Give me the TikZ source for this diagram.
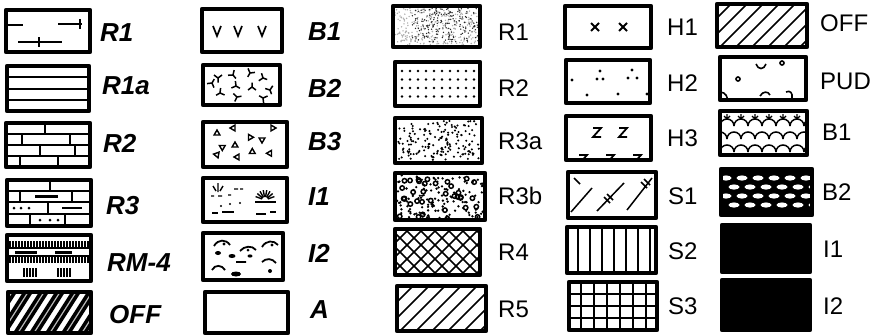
\documentclass[tikz,border=0pt]{standalone}
\usepackage{fontspec}
\setmainfont{Liberation Sans}
\newcommand\bx[5]{\begin{scope}\clip (#1,#2) rectangle (#3,#4); #5 \end{scope}\draw[frame] (#1,#2) rectangle (#3,#4);}
\newcommand\rdots[7]{\foreach \i in {1,...,#5}{\pgfmathsetmacro\px{#1+rnd*(#3-#1)}\pgfmathsetmacro\py{#2+rnd*(#4-#2)}\fill[#7] (\px,\py) circle (#6);}}
\begin{document}
\begin{tikzpicture}[x=1pt,y=-1pt,
  frame/.style={line width=4.3pt, line join=round},
  pat/.style={line width=1.4pt},
  lbi/.style={anchor=west, inner sep=0pt, font=\fontsize{26}{26}\selectfont\bfseries\itshape, text height=18.6pt, text depth=0pt},
  lbr/.style={anchor=west, inner sep=0pt, font=\fontsize{24}{24}\selectfont, text height=17.2pt, text depth=0pt},
  tri/.style={line width=1.4pt},
  tripod/.pic={\draw[line width=1.5pt] (0,0)--(0,-4.5pt) (0,0)--(-4pt,3pt) (0,0)--(4pt,3pt);}]
\useasboundingbox (0,0) rectangle (881,335);
\pgfmathsetseed{7}
% ---------- column 1 ----------
\bx{6}{10}{90}{52}{\draw[pat] (6,25)--(23,25) (58,24)--(82,24) (80,19)--(80,29) (18,42)--(62,42) (39,37)--(39,47);}
\bx{7}{66}{89}{111}{\draw[pat] (7,77)--(89,77) (7,89)--(89,89) (7,100)--(89,100);}
\bx{6}{123}{90}{167}{\draw[line width=1.8pt] (6,134)--(90,134) (6,145)--(90,145) (6,156)--(90,156)
  (45,123)--(45,134) (22,134)--(22,145) (70,134)--(70,145) (40,145)--(40,156) (75,145)--(75,156) (20,156)--(20,167) (58,156)--(58,167);}
\bx{7}{180}{91}{226}{\draw[line width=1.8pt] (7,191)--(91,191) (7,202)--(91,202) (7,214)--(91,214)
  (50,180)--(50,191) (20,191)--(20,202) (72,191)--(72,202) (48,202)--(48,214) (30,214)--(30,226) (65,214)--(65,226);
  \draw[line width=2.6pt] (35,196.5)--(58,196.5) (62,208)--(82,208);
  \foreach \p in {(14,208),(21,208),(29,208),(40,220),(50,220),(58,220)} \fill \p circle (1.5pt);}
\bx{7}{235}{91}{281}{\foreach \t in {10,13,...,88} \draw[line width=1.2pt] (\t,241)--(\t,248) (\t,256)--(\t,263);
  \draw[line width=1.6pt] (7,248)--(91,248) (7,256)--(91,256);
  \draw[line width=3pt] (15,252)--(37,252) (55,252)--(72,252);
  \foreach \t in {24,27,...,38,58,61,...,72} \draw[line width=1.3pt] (\t,268)--(\t,277);}
\bx{8}{292}{91}{333}{\foreach \k in {-40,-24,...,100} {\draw[line width=8.5pt] (8+\k,336)--(8+\k+30,289); \draw[gray!55,line width=1.2pt] (8+\k,336)--(8+\k+30,289);}}
\node[lbi] (l1a) at (100,32) {R1};
\node[lbi] (l1b) at (102,85) {R1a};
\node[lbi] (l1c) at (103,143) {R2};
\node[lbi] (l1d) at (106,205) {R3};
\node[lbi] (l1e) at (107,262) {RM-4};
\node[lbi] (l1f) at (109,314) {OFF};
% ---------- column 2 ----------
\bx{202}{9}{282}{52}{\draw[line width=1.7pt] (213,26)--(217,36)--(221,26) (234,26)--(238,36)--(242,26) (258,26)--(262,36)--(266,26);}
\bx{203}{65}{280}{105}{\foreach \p/\r in {(218,78)/0,(233,75)/40,(250,73)/-30,(263,78)/70,(252,87)/180,(270,90)/20,(220,93)/-60,(237,97)/100,(212,83)/150,(263,98)/-120,(236,86)/60}
  \pic[rotate=\r] at \p {tripod};}
\bx{203}{122}{287}{167}{\foreach \p/\r in {(217,133)/0,(233,128)/90,(250,137)/30,(262,140)/180,(273,128)/-90,(222,147)/60,(235,145)/0,(252,152)/120,(270,153)/-30,(237,157)/90,(217,155)/200}
  \draw[tri,rotate around={\r:\p}] \p ++(0,-3) -- ++(2.9,5) -- ++(-5.8,0) -- cycle;}
\bx{203}{178}{287}{222}{\draw[line width=1.4pt] (218,183)--(218,192) (213,186)--(216,191) (223,186)--(220,191)
  (211,196)--(214,196) (218,196)--(222,196) (228,195)--(231,195) (234,189)--(238,189) (240,189)--(243,189);
  \foreach \a in {20,40,...,160} \draw[line width=1.4pt] (265,200) ++(\a:3pt) -- ++(\a:7pt);
  \draw[line width=1.6pt] (255,202)--(276,202) (212,213)--(218,213) (222,212)--(234,212) (256,214)--(266,214) (270,212)--(276,212);
  \fill (221,206) circle (1.2pt) (230,204) circle (1.2pt) (240,203) circle (1.2pt);}
\bx{203}{233}{283}{280}{\draw[line width=1.8pt] (214,246) .. controls (218,239) and (226,239) .. (230,245) (240,251) .. controls (244,246) and (252,245) .. (256,250) (262,247) .. controls (266,240) and (274,240) .. (278,245)
  (212,270) .. controls (215,264) and (222,265) .. (225,270) (236,262)--(246,262) (262,262) .. controls (266,258) and (272,258) .. (276,263);
  \fill (218,253) ellipse (3pt and 2pt) (232,256) ellipse (3.5pt and 2pt) (250,256) ellipse (2.5pt and 1.6pt) (236,274) ellipse (5pt and 2.5pt) (270,271) ellipse (2pt and 2pt) (224,244) circle (1.6pt) (272,245) circle (1.6pt) (248,250) circle (1.5pt);}
\bx{205}{292}{288}{333}{}
\node[lbi] (l2a) at (308,31) {B1};
\node[lbi] (l2b) at (308,88) {B2};
\node[lbi] (l2c) at (308,141) {B3};
\node[lbi] (l2d) at (308,196) {I1};
\node[lbi] (l2e) at (308,253) {I2};
\node[lbi] (l2f) at (310,309) {A};
% ---------- column 3 ----------
\bx{393}{6}{480}{47}{\rdots{395}{8}{478}{45}{260}{0.8pt}{gray!65}\rdots{412}{8}{478}{42}{200}{0.75pt}{black!85}}
\bx{395}{62}{480}{106}{\foreach \yy in {71,79.5,88,96.5} \foreach \xx in {0,...,9} \fill (402+8*\xx,\yy) circle (1.45pt);}
\bx{395}{118}{482}{163}{\rdots{398}{121}{479}{160}{160}{1.15pt}{black}}
\bx{395}{173}{485}{220}{\foreach \i in {1,...,34}{\pgfmathsetmacro\px{398+rnd*84}\pgfmathsetmacro\py{176+rnd*41}\draw[line width=1.5pt] (\px,\py) circle (2.2pt);}
  \rdots{397}{175}{483}{218}{130}{1.3pt}{black}}
\bx{395}{229}{480}{275}{\foreach \k in {-60,-46,...,100} \draw[line width=1.6pt] (395+\k,275)--(395+\k+46,229) (395+\k,229)--(395+\k+46,275);}
\bx{397}{286}{486}{331}{\foreach \k in {-45,-29,...,100} \draw[line width=1.5pt] (397+\k,331)--(397+\k+45,286);}
\node[lbr] (l3a) at (498,32) {R1};
\node[lbr] (l3b) at (498,88) {R2};
\node[lbr] (l3c) at (498,141) {R3a};
\node[lbr] (l3d) at (498,196) {R3b};
\node[lbr] (l3e) at (498,252) {R4};
\node[lbr] (l3f) at (498,309) {R5};
% ---------- column 4 ----------
\bx{565}{6}{651}{48}{\draw[line width=1.8pt] (591,23)--(599,31) (591,31)--(599,23) (619,23)--(627,31) (619,31)--(627,23);}
\bx{566}{60}{650}{103}{\foreach \p in {(600,71),(597,79),(603,79),(632,70),(628,78),(637,78),(572,80),(587,95),(618,94),(647,94)} \fill \p circle (1.7pt);}
\bx{566}{116}{651}{160}{\draw[line width=1.8pt] (593,128)--(601,128)--(593,137)--(601,137) (619,128)--(627,128)--(619,137)--(627,137)
  (579,155)--(587,155)--(579,164) (606,155)--(614,155)--(606,164) (633,155)--(641,155)--(633,164);}
\bx{568}{172}{656}{218}{\draw[line width=1.5pt] (571,212)--(592,188) (597,211)--(624,183) (627,210)--(652,178) (574,178)--(580,184)
  (604,197)--(610,203) (607,194)--(613,200) (641,182)--(647,188) (644,179)--(650,185);}
\bx{567}{227}{656}{273}{\foreach \xx in {578,590,...,650} \draw[line width=2.8pt] (\xx,227)--(\xx,273);}
\bx{569}{282}{657}{330}{\foreach \yy in {294,306,318} \draw[line width=1.7pt] (569,\yy)--(657,\yy); \foreach \xx in {581,594,...,650} \draw[line width=1.7pt] (\xx,282)--(\xx,330);}
\node[lbr] (l4a) at (667,27) {H1};
\node[lbr] (l4b) at (667,83) {H2};
\node[lbr] (l4c) at (667,138) {H3};
\node[lbr] (l4d) at (668,196) {S1};
\node[lbr] (l4e) at (668,251) {S2};
\node[lbr] (l4f) at (668,306) {S3};
% ---------- column 5 ----------
\bx{717}{4}{807}{47}{\foreach \k in {-45,-29,...,100} \draw[line width=1.5pt] (717+\k,47)--(717+\k+43,4);}
\bx{720}{57}{806}{100}{\draw[line width=1.6pt] (756,64) .. controls (758,70) and (764,70) .. (766,64) (782,63) circle (2pt) (738,79) circle (2pt)
  (760,96) .. controls (763,91) and (768,91) .. (770,95) (786,92) .. controls (790,90) and (793,93) .. (792,98) (720,92) .. controls (726,92) and (728,98) .. (727,100);}
\bx{720}{111}{807}{155}{\foreach \yy/\o in {126/0,139/7,152/0} \foreach \xx in {-7,7,...,100} \draw[line width=1.5pt] (720+\xx+\o-7,\yy) arc[start angle=180,end angle=0,radius=7pt];
  \foreach \xx in {727,741,...,800} \draw[line width=1.3pt] (\xx,119)--(\xx,114) (\xx,119)--(\xx-3,116) (\xx,119)--(\xx+3,116);}
\bx{721}{169}{812}{215}{\fill (721,169) rectangle (812,215); \foreach \yy/\o in {178/0,187/8,196/0,205/8} \foreach \xx in {0,16,...,96} \fill[white] (726+\xx+\o,\yy) ellipse [x radius=5.5pt, y radius=2.6pt];}
\bx{722}{225}{810}{272}{\fill (722,225) rectangle (810,272);}
\bx{722}{280}{810}{330}{\fill (722,280) rectangle (810,330);}
\node[lbr] (l5a) at (820,23) {OFF};
\node[lbr] (l5b) at (820,81) {PUD};
\node[lbr] (l5c) at (822,132) {B1};
\node[lbr] (l5d) at (822,192) {B2};
\node[lbr] (l5e) at (823,249) {I1};
\node[lbr] (l5f) at (823,306) {I2};
\end{tikzpicture}
\end{document}
